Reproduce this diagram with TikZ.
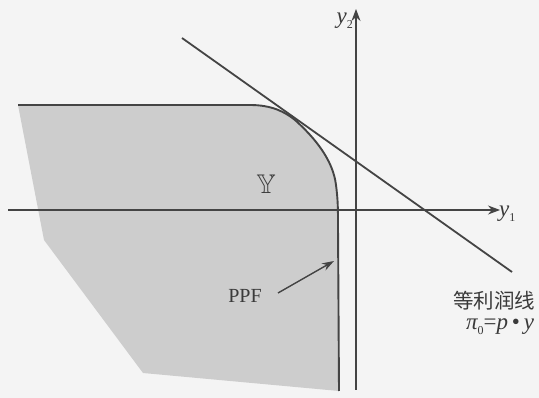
\documentclass[tikz,border=0pt]{standalone}
\usepackage{amssymb}
\usepackage{fontspec}
\setmainfont{Liberation Serif}
\newfontfamily\cjk{Noto Sans CJK SC}
\usetikzlibrary{arrows.meta}
\definecolor{bgc}{HTML}{F4F4F4}
\definecolor{fillc}{HTML}{CDCDCD}
\definecolor{linec}{HTML}{444444}
\definecolor{textc}{HTML}{3A3A3A}
\tikzset{
  axisline/.style={draw=linec, line width=1.2pt, -{Stealth[length=12pt,width=9pt]}},
  frontier/.style={draw=linec, line width=1.9pt},
  isoline/.style={draw=linec, line width=1.8pt},
  pointer/.style={draw=linec, line width=1.4pt, -{Stealth[length=12pt,width=8pt]}},
  lbl/.style={text=textc, inner sep=0pt, font=\fontsize{20}{24}\selectfont},
  mathlbl/.style={text=textc, inner sep=0pt, font=\fontsize{23}{26}\selectfont},
  cjklbl/.style={text=textc, inner sep=0pt, font=\cjk\fontsize{20.5}{24}\selectfont}
}
\begin{document}
\begin{tikzpicture}[x=1pt,y=-1pt]
\useasboundingbox (0,0) rectangle (539,398);
\fill[bgc] (0,0) rectangle (539,398);
% feasible set
\fill[fillc] (18,105) -- (250,105)
  .. controls (272,105) and (285,112) .. (295,120)
  .. controls (315,138) and (333,160) .. (336,185)
  .. controls (338,200) and (338,210) .. (338,225)
  -- (339,391) -- (143,373) -- (44,240) -- cycle;
\draw[frontier] (18,105) -- (250,105)
  .. controls (272,105) and (285,112) .. (295,120)
  .. controls (315,138) and (333,160) .. (336,185)
  .. controls (338,200) and (338,210) .. (338,225)
  -- (339,391);
% axes
\coordinate (xs) at (8,210);
\coordinate (xe) at (500,210);
\coordinate (ys) at (356,390);
\coordinate (ye) at (356,9);
\draw[axisline] (xs) -- (xe);
\draw[axisline] (ys) -- (ye);
\node[mathlbl, anchor=west] (y1) at (499,214) {\itshape y\raisebox{-0.4ex}{\fontsize{12}{13}\selectfont\upshape 1}};
\node[mathlbl, anchor=east] (y2) at (353,21) {\itshape y\raisebox{-0.4ex}{\fontsize{12}{13}\selectfont\upshape 2}};
% isoprofit line
\coordinate (l1) at (182,38);
\coordinate (l2) at (512,272);
\draw[isoline] (l1) -- (l2);
% labels
\node[text=textc, inner sep=0pt, font=\fontsize{27}{30}\selectfont] (Y) at (266,184) {$\mathbb{Y}$};
\node[lbl] (ppf) at (245,296) {PPF};
\coordinate (ppftip) at (334,261);
\draw[pointer] (278,293) -- (ppftip);
\node[cjklbl] (iso) at (494,301) {等利润线};
\node[mathlbl] (eq) at (500,327) {\itshape π\raisebox{-0.4ex}{\fontsize{12}{13}\selectfont\upshape 0}\upshape =\itshape p\upshape\,•\,\itshape y};
\end{tikzpicture}
\end{document}
